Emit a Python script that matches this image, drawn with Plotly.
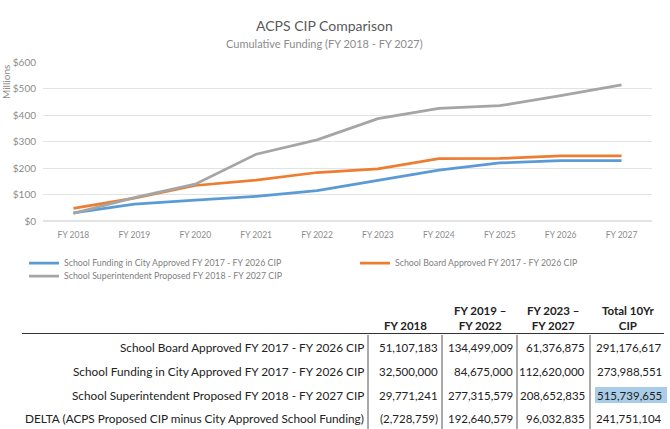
import plotly.graph_objs as go

# Chart data (millions)
years = ['FY 2018', 'FY 2019', 'FY 2020', 'FY 2021', 'FY 2022',
         'FY 2023', 'FY 2024', 'FY 2025', 'FY 2026', 'FY 2027']
city_approved = [31, 64, 79, 93, 115, 154, 192, 219, 228, 228]
board_approved = [48, 86, 134, 154, 183, 197, 235, 236, 246, 246]
superintendent = [29, 88, 139, 252, 306, 386, 425, 435, 473, 514]

# Table data
col_headers = ['FY 2018', 'FY 2019 –<br>FY 2022', 'FY 2023 –<br>FY 2027', 'Total 10Yr<br>CIP']
row_labels = [
    'School Board Approved FY 2017 - FY 2026 CIP',
    'School Funding in City Approved FY 2017 - FY 2026 CIP',
    'School Superintendent Proposed FY 2018 - FY 2027 CIP',
    'DELTA (ACPS Proposed CIP minus City Approved School Funding)',
]
board_row = [51107183, 134499009, 61376875, 291176617]
city_row = [32500000, 84675000, 112620000, 273988551]
super_row = [29771241, 277315579, 208652835, 515739655]
delta_row = [-2728759, 192640579, 96032835, 241751104]

W, H = 670, 429
L, R, T, B = 43, 652, 62, 221  # plot area in pixels


def px(x):
    return (x - L) / (R - L)


def py(y):
    return (B - y) / (B - T)


def fmt(v):
    s = f"{abs(v):,}"
    return f"({s})" if v < 0 else s


FONT = 'Lato'
INK = '#222222'


def note(text, x, y, xanchor='center', yanchor='middle', **kw):
    d = dict(text=text, x=px(x), y=py(y), xref='paper', yref='paper', showarrow=False,
             xanchor=xanchor, yanchor=yanchor)
    d.update(kw)
    return d


fig = go.Figure()
fig.add_trace(go.Scatter(x=years, y=city_approved, mode='lines',
                         line=dict(color='#5b9bd5', width=2.75), legend='legend',
                         name='School Funding in City Approved FY 2017 - FY 2026 CIP'))
fig.add_trace(go.Scatter(x=years, y=board_approved, mode='lines',
                         line=dict(color='#ed7d31', width=2.75), legend='legend3',
                         name='School Board Approved FY 2017 - FY 2026 CIP'))
fig.add_trace(go.Scatter(x=years, y=superintendent, mode='lines',
                         line=dict(color='#a5a5a5', width=2.75), legend='legend2',
                         name='School Superintendent Proposed FY 2018 - FY 2027 CIP'))

annotations = [
    note('ACPS CIP Comparison', 324, 25, font=dict(size=14, color='#595959')),
    note('Cumulative Funding (FY 2018 - FY 2027)', 324, 43, font=dict(size=11, color='#8c8c8c')),
    note('Millions', 6, 82, textangle=-90, font=dict(size=10, color='#8c8c8c')),
]

shapes = []

# table header
col_centers = [405, 480, 553, 628]
for cx, h in zip(col_centers, col_headers):
    annotations.append(note('<b>' + h + '</b>', cx, 334, yanchor='bottom',
                            font=dict(size=11.5, color=INK)))
shapes.append(dict(type='line', xref='paper', yref='paper', x0=px(22), x1=px(664),
                   y0=py(333.5), y1=py(333.5), line=dict(color='#333333', width=1.2)))

# table body
rows = [board_row, city_row, super_row, delta_row]
row_y = [347, 371, 395, 418]
col_right = [440, 515, 587, 664]

# highlighted cell
shapes.append(dict(type='rect', xref='paper', yref='paper', x0=px(595), x1=px(667),
                   y0=py(403), y1=py(387), fillcolor='#a9cde8', line=dict(width=0),
                   layer='below'))

for label, vals, ry in zip(row_labels, rows, row_y):
    annotations.append(note(label, 366, ry, xanchor='right', font=dict(size=11.8, color=INK)))
    for v, rx in zip(vals, col_right):
        annotations.append(note(fmt(v), rx, ry, xanchor='right', font=dict(size=11.5, color=INK)))

for vx in [368, 442, 517, 590]:
    shapes.append(dict(type='line', xref='paper', yref='paper', x0=px(vx), x1=px(vx),
                       y0=py(335), y1=py(429), line=dict(color='#555555', width=1)))

legend_style = dict(orientation='h', xanchor='left', yanchor='middle',
                    xref='container', yref='container',
                    bgcolor='rgba(0,0,0,0)', font=dict(size=8.8, color='#7f7f7f'))

fig.update_layout(
    width=W, height=H,
    margin=dict(l=L, r=W - R, t=T, b=H - B, autoexpand=False),
    paper_bgcolor='white', plot_bgcolor='white',
    font=dict(family=FONT, color='#8c8c8c'),
    showlegend=True,
    legend=dict(x=24 / W, y=1 - 263 / H, **legend_style),
    legend2=dict(x=24 / W, y=1 - 276 / H, **legend_style),
    legend3=dict(x=355 / W, y=1 - 263 / H, **legend_style),
    xaxis=dict(type='category', range=[-0.5, 9.5], showgrid=False, showline=False,
               ticks='', ticklabelstandoff=7, tickfont=dict(size=8.5, color='#8c8c8c')),
    yaxis=dict(range=[0, 600], dtick=100, tickprefix='$', gridcolor='#e3e3e3',
               zeroline=True, zerolinecolor='#e3e3e3', showline=False,
               ticklabelstandoff=6, tickfont=dict(size=10, color='#8c8c8c')),
    annotations=annotations,
    shapes=shapes,
)

fig.write_html("out.html", config={'displayModeBar': False},
               post_script="document.body.style.margin='0';")
